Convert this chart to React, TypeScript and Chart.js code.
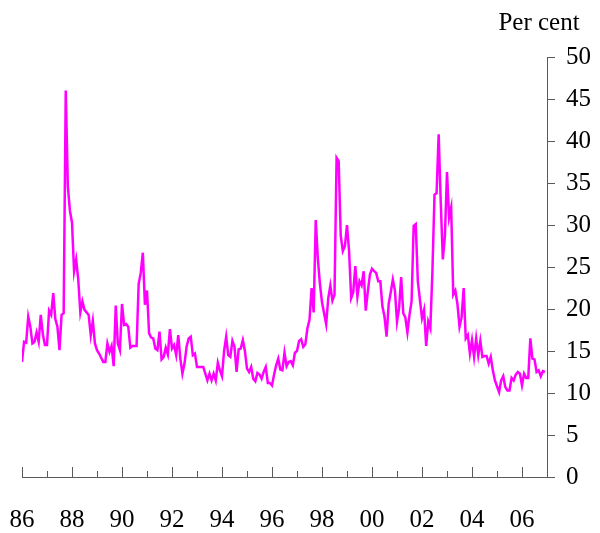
import React, { useEffect, useRef } from 'react';
import { Chart, registerables } from 'chart.js';

Chart.register(...registerables);

// Monthly values, January 1986 to December 2006 (per cent)
const startYear = 1986;
const y1986 = [13.7, 16.1, 16.0, 19.1, 17.9, 15.9, 16.1, 17.2, 16.1, 19.3, 17.0, 15.7];
const y1987 = [15.7, 19.8, 19.3, 21.9, 18.8, 17.9, 15.1, 19.3, 19.5, 46.0, 34.6, 31.7];
const y1988 = [30.3, 24.5, 25.9, 23.5, 19.6, 20.9, 19.9, 19.6, 19.3, 16.9, 18.6, 15.9];
const y1989 = [15.1, 14.7, 14.2, 13.7, 13.7, 15.9, 14.9, 15.6, 13.2, 20.4, 15.9, 15.1];
const y1990 = [20.6, 18.1, 18.2, 17.9, 15.4, 15.6, 15.6, 15.6, 23.0, 24.3, 26.7, 20.5];
const y1991 = [22.2, 17.1, 16.6, 16.5, 15.3, 15.1, 17.3, 14.0, 14.3, 15.4, 14.6, 17.6];
const y1992 = [15.3, 15.7, 14.5, 16.9, 14.1, 12.3, 13.5, 15.5, 16.5, 16.7, 14.5, 14.7];
const y1993 = [13.1, 13.1, 13.1, 13.1, 12.3, 11.5, 12.3, 11.5, 12.3, 11.5, 13.6, 12.7];
const y1994 = [12.0, 15.0, 16.7, 14.5, 14.3, 16.2, 15.5, 12.5, 15.2, 15.3, 16.3, 15.0];
const y1995 = [12.9, 12.5, 13.1, 11.7, 11.4, 12.4, 12.2, 11.7, 12.5, 13.1, 11.2, 11.2];
const y1996 = [10.9, 12.2, 13.3, 14.1, 12.8, 12.7, 14.8, 13.2, 13.7, 13.8, 13.3, 14.8];
const y1997 = [15.0, 16.2, 16.4, 15.5, 15.8, 17.7, 18.7, 22.5, 19.6, 30.6, 26.0, 23.0];
const y1998 = [20.8, 19.5, 18.2, 21.3, 22.8, 21.0, 21.7, 38.0, 37.6, 28.7, 26.9, 27.5];
const y1999 = [30.0, 26.9, 21.3, 22.0, 25.1, 21.5, 23.3, 22.8, 24.5, 19.8, 22.1, 24.1];
const y2000 = [24.8, 24.5, 24.3, 23.3, 23.3, 20.3, 19.1, 16.7, 20.6, 22.0, 23.5, 22.2];
const y2001 = [18.5, 20.1, 23.8, 19.5, 19.0, 17.2, 19.3, 20.9, 29.9, 30.1, 23.3, 21.1];
const y2002 = [18.9, 19.9, 15.6, 18.5, 17.7, 24.5, 33.6, 33.8, 40.8, 32.7, 25.9, 28.7];
const y2003 = [36.3, 30.9, 32.1, 21.7, 22.2, 20.6, 17.9, 19.0, 22.5, 16.5, 16.9, 14.7];
const y2004 = [16.3, 14.3, 16.5, 14.5, 16.2, 14.3, 14.4, 14.4, 13.5, 14.3, 12.7, 11.5];
const y2005 = [10.8, 10.1, 11.5, 12.0, 10.7, 10.3, 10.3, 11.8, 11.5, 12.2, 12.5, 12.3];
const y2006 = [10.9, 12.3, 11.8, 11.8, 16.5, 14.1, 14.0, 12.5, 12.7, 12.0, 12.6, 12.5];

const monthlyValues = [
  ...y1986, ...y1987, ...y1988, ...y1989, ...y1990, ...y1991, ...y1992,
  ...y1993, ...y1994, ...y1995, ...y1996, ...y1997, ...y1998, ...y1999,
  ...y2000, ...y2001, ...y2002, ...y2003, ...y2004, ...y2005, ...y2006,
];

const xLabelYears = [1986, 1988, 1990, 1992, 1994, 1996, 1998, 2000, 2002, 2004, 2006];
const xTickYears = [1986, 1987, 1988, 1989, 1990, 1991, 1992, 1993, 1994, 1995, 1996,
  1997, 1998, 1999, 2000, 2001, 2002, 2003, 2004, 2005, 2006];
const xMin = 1986;
const xMax = 2007;
const yMin = 0;
const yMax = 50;
const yStep = 5;
const unitLabel = 'Per cent';

const FONT = "'Liberation Serif', 'Times New Roman', serif";
const AXIS_COLOR = '#5a5a5a';

const decorPlugin = {
  id: 'decor',
  afterDraw(chart: any) {
    const { ctx, chartArea } = chart;
    const xs = chart.scales.x;
    ctx.save();
    ctx.strokeStyle = AXIS_COLOR;
    ctx.lineWidth = 1;
    xTickYears.forEach((yr) => {
      const px = Math.round(xs.getPixelForValue(yr)) + 0.5;
      const len = yr % 2 === 0 ? 10 : 6;
      ctx.beginPath();
      ctx.moveTo(px, chartArea.bottom);
      ctx.lineTo(px, chartArea.bottom - len);
      ctx.stroke();
    });
    ctx.fillStyle = '#000';
    ctx.font = `25px ${FONT}`;
    ctx.textAlign = 'center';
    ctx.textBaseline = 'middle';
    ctx.fillText(unitLabel, chartArea.right - 8, chartArea.top - 34);
    ctx.restore();
  },
};

export default function App() {
  const ref = useRef<HTMLCanvasElement | null>(null);

  useEffect(() => {
    if (!ref.current) return;
    const points = monthlyValues.map((v, i) => ({ x: startYear + i / 12, y: v }));
    const chart = new Chart(ref.current, {
      type: 'line',
      data: {
        datasets: [
          {
            data: points,
            borderColor: '#ff00ff',
            borderWidth: 2.5,
            pointRadius: 0,
            tension: 0,
            fill: false,
          },
        ],
      },
      options: {
        animation: false,
        responsive: true,
        maintainAspectRatio: false,
        layout: { padding: { left: 22, top: 57, right: 0, bottom: 0 } },
        plugins: { legend: { display: false }, tooltip: { enabled: false }, title: { display: false } },
        scales: {
          x: {
            type: 'linear',
            min: xMin,
            max: xMax,
            afterBuildTicks: (scale: any) => {
              scale.ticks = xLabelYears.map((v) => ({ value: v }));
            },
            afterFit: (scale: any) => {
              scale.height = 56;
              scale.paddingLeft = 0;
              scale.paddingRight = 0;
            },
            grid: { display: false, drawTicks: false },
            border: { display: true, color: AXIS_COLOR, width: 1 },
            ticks: {
              autoSkip: false,
              maxRotation: 0,
              padding: 28,
              color: '#000',
              font: { family: FONT, size: 25 },
              callback: (value: any) => String(value).slice(2),
            },
          },
          y: {
            position: 'right',
            min: yMin,
            max: yMax,
            afterFit: (scale: any) => {
              scale.width = 53;
              scale.paddingTop = 0;
              scale.paddingBottom = 0;
            },
            grid: { drawOnChartArea: false, drawTicks: true, tickLength: 8, color: AXIS_COLOR },
            border: { display: true, color: AXIS_COLOR, width: 1 },
            ticks: {
              stepSize: yStep,
              padding: 11,
              color: '#000',
              font: { family: FONT, size: 25 },
            },
          },
        },
      },
      plugins: [decorPlugin],
    });
    return () => chart.destroy();
  }, []);

  return (
    <div style={{ position: 'absolute', left: 0, top: 0, width: 600, height: 533, background: '#fff' }}>
      <canvas ref={ref} />
    </div>
  );
}
